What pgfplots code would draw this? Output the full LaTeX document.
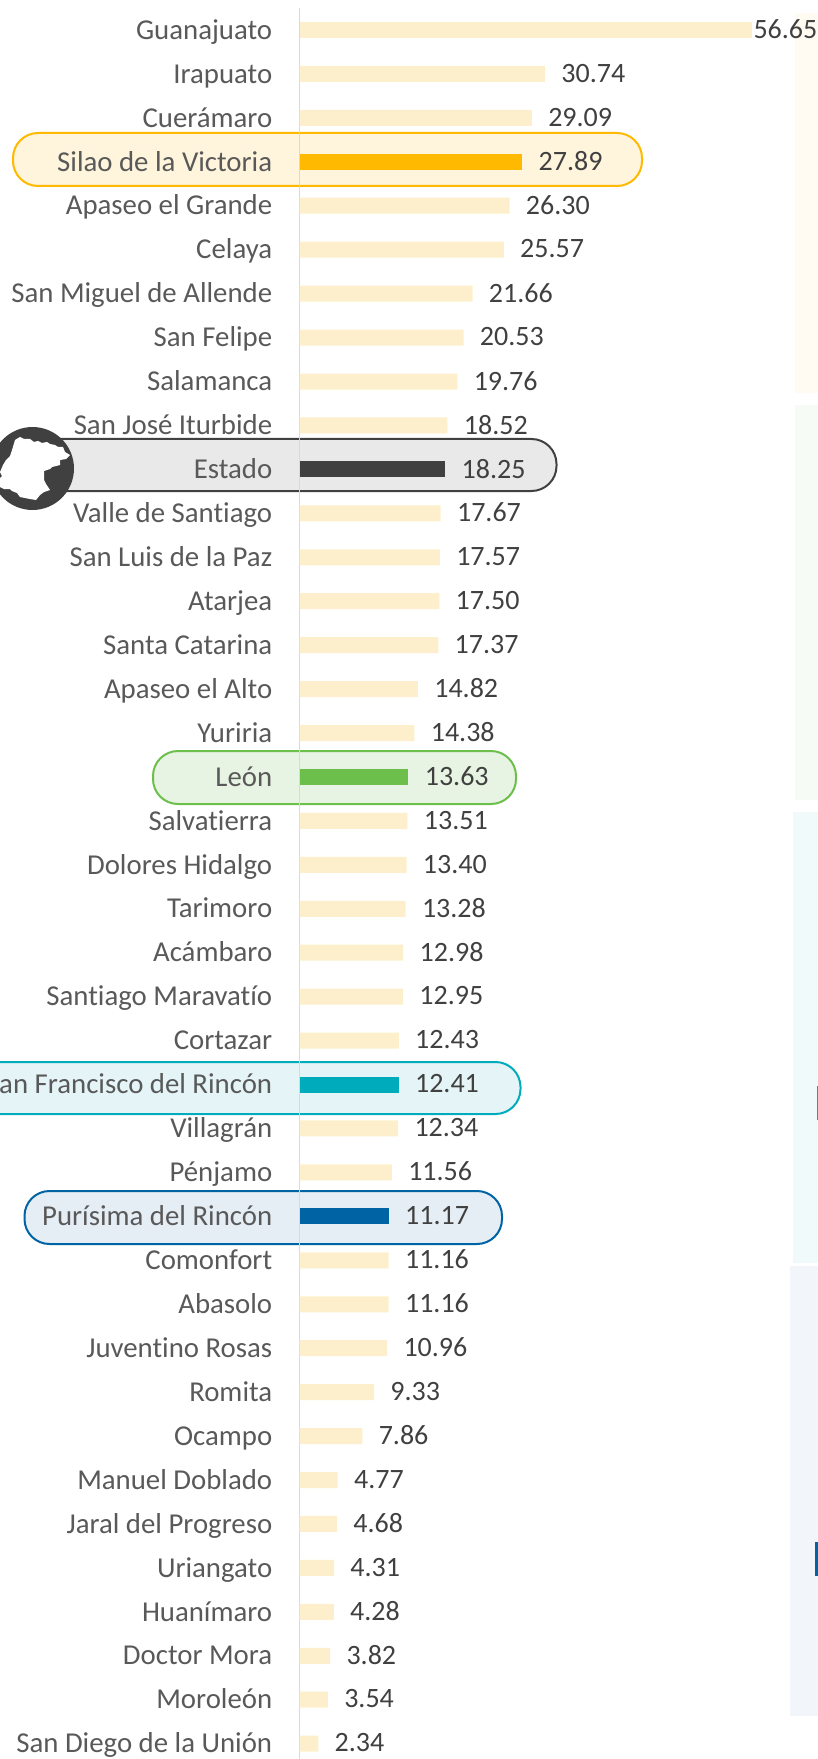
\documentclass[border=0pt]{standalone}
\usepackage{pgfplots}
\pgfplotsset{compat=1.18}
\usepackage{fontspec}
\setmainfont{Carlito}[Ligatures={NoCommon,TeX}]
\definecolor{barc}{HTML}{FDEFCB}
\definecolor{silao}{HTML}{FFB900}\definecolor{silaob}{HTML}{FFF4DC}
\definecolor{estado}{HTML}{404040}\definecolor{estadob}{HTML}{E9E9E9}
\definecolor{leon}{HTML}{6CBF4B}\definecolor{leonb}{HTML}{E8F4E3}
\definecolor{sfr}{HTML}{00ACBC}\definecolor{sfrb}{HTML}{E4F4F7}
\definecolor{pur}{HTML}{0063A3}\definecolor{purb}{HTML}{E5EDF5}
\definecolor{labc}{HTML}{595959}
\begin{document}
\begin{tikzpicture}
\path[use as bounding box] (0pt,0pt) rectangle (409pt,-879.5pt);
\clip (0pt,0pt) rectangle (409pt,-879.5pt);
\begin{scope}[x=0.5pt,y=-0.5pt]
% side bands
\fill[color={rgb,255:red,255;green,250;blue,242}] (795,13) rectangle (818,393);
\fill[color={rgb,255:red,246;green,251;blue,245}] (795,405) rectangle (818,800);
\fill[color={rgb,255:red,240;green,250;blue,250}] (793,812) rectangle (818,1263);
\fill[color={rgb,255:red,242;green,246;blue,250}] (790,1266) rectangle (818,1716);
\fill[sfr] (817,1086) rectangle (818,1120);
\fill[pur] (815,1542) rectangle (818,1576);
% highlight pills
\draw[draw=silao,fill=silaob,line width=1pt,rounded corners=12.5pt] (13,133) rectangle (642,186);
\draw[draw=leon,fill=leonb,line width=1pt,rounded corners=12.5pt] (153,751) rectangle (516,804);
\draw[draw=sfr,fill=sfrb,line width=1pt,rounded corners=12.5pt] (-60,1062) rectangle (520.5,1114);
\draw[draw=pur,fill=purb,line width=1pt,rounded corners=12.5pt] (24.5,1191) rectangle (502,1244);
\draw[draw=estado,fill=estadob,line width=1pt,rounded corners=12.5pt] (20,439) rectangle (556.5,491);
% state badge
\fill[estado] (32.5,468.5) circle[radius=41.5];
\fill[white] (15,440) -- (20,437) -- (24,439) -- (30,439) -- (34,442) -- (38,441) -- (42,443) -- (47,442) -- (50,444) -- (55,445) -- (58,447) -- (63,447) -- (65,452) -- (70,455) -- (66,459) -- (60,460) -- (60,465) -- (52,467) -- (50,469) -- (44,471) -- (44,480) -- (46,484) -- (50,490) -- (44,492) -- (40,495) -- (36,500) -- (30,499) -- (25,498) -- (20,497) -- (17,493) -- (12,491) -- (10,489) -- (4,489) -- (0,487) -- (-3,483) -- (0,478) -- (2,476) -- (0,472) -- (3,465) -- (6,460) -- (10,456) -- (12,450) -- cycle;
\end{scope}
\begin{axis}[
  at={(149.8pt,-4pt)}, anchor=north west,
  scale only axis, width=259.2pt, height=875.5pt,
  xbar, bar shift=0pt, bar width=8pt,
  xmin=0, xmax=64.93, ymin=-0.5, ymax=39.35,
  y dir=reverse, clip=false,
  axis x line=none,
  axis y line*=left,
  y axis line style={draw=black!15,line width=.75pt},
  major tick length=0pt,
  ytick={0,...,39},
  yticklabels={Guanajuato,Irapuato,Cuerámaro,Silao de la Victoria,Apaseo el Grande,Celaya,San Miguel de Allende,San Felipe,Salamanca,San José Iturbide,Estado,Valle de Santiago,San Luis de la Paz,Atarjea,Santa Catarina,Apaseo el Alto,Yuriria,León,Salvatierra,Dolores Hidalgo,Tarimoro,Acámbaro,Santiago Maravatío,Cortazar,San Francisco del Rincón,Villagrán,Pénjamo,Purísima del Rincón,Comonfort,Abasolo,Juventino Rosas,Romita,Ocampo,Manuel Doblado,Jaral del Progreso,Uriangato,Huanímaro,Doctor Mora,Moroleón,San Diego de la Unión},
  yticklabel style={font=\fontsize{14.4}{16}\selectfont,text=labc,anchor=east,inner sep=0pt,xshift=-13.5pt,yshift=-1.6pt,text height=9pt,text depth=3pt},
  /pgf/number format/assume math mode=true,
  /pgf/number format/fixed,/pgf/number format/fixed zerofill,/pgf/number format/precision=2,
  nodes near coords,
  every node near coord/.append style={font=\fontsize{14}{15}\selectfont,text=estado,anchor=west,inner sep=0pt,xshift=8pt,yshift=0.4pt},
]
\addplot[draw=none,fill=barc,every node near coord/.append style={xshift=-7.4pt}] coordinates {(56.65,0)};
\addplot[draw=none,fill=barc] coordinates {
(30.74,1) (29.09,2) (26.30,4) (25.57,5) (21.66,6) (20.53,7) (19.76,8) (18.52,9)
(17.67,11) (17.57,12) (17.50,13) (17.37,14) (14.82,15) (14.38,16)
(13.51,18) (13.40,19) (13.28,20) (12.98,21) (12.95,22) (12.43,23)
(12.34,25) (11.56,26) (11.16,28) (11.16,29) (10.96,30) (9.33,31) (7.86,32)
(4.77,33) (4.68,34) (4.31,35) (4.28,36) (3.82,37) (3.54,38) (2.34,39)};
\addplot[draw=none,fill=silao] coordinates {(27.89,3)};
\addplot[draw=none,fill=estado] coordinates {(18.25,10)};
\addplot[draw=none,fill=leon] coordinates {(13.63,17)};
\addplot[draw=none,fill=sfr] coordinates {(12.41,24)};
\addplot[draw=none,fill=pur] coordinates {(11.17,27)};
\end{axis}
\end{tikzpicture}
\end{document}
